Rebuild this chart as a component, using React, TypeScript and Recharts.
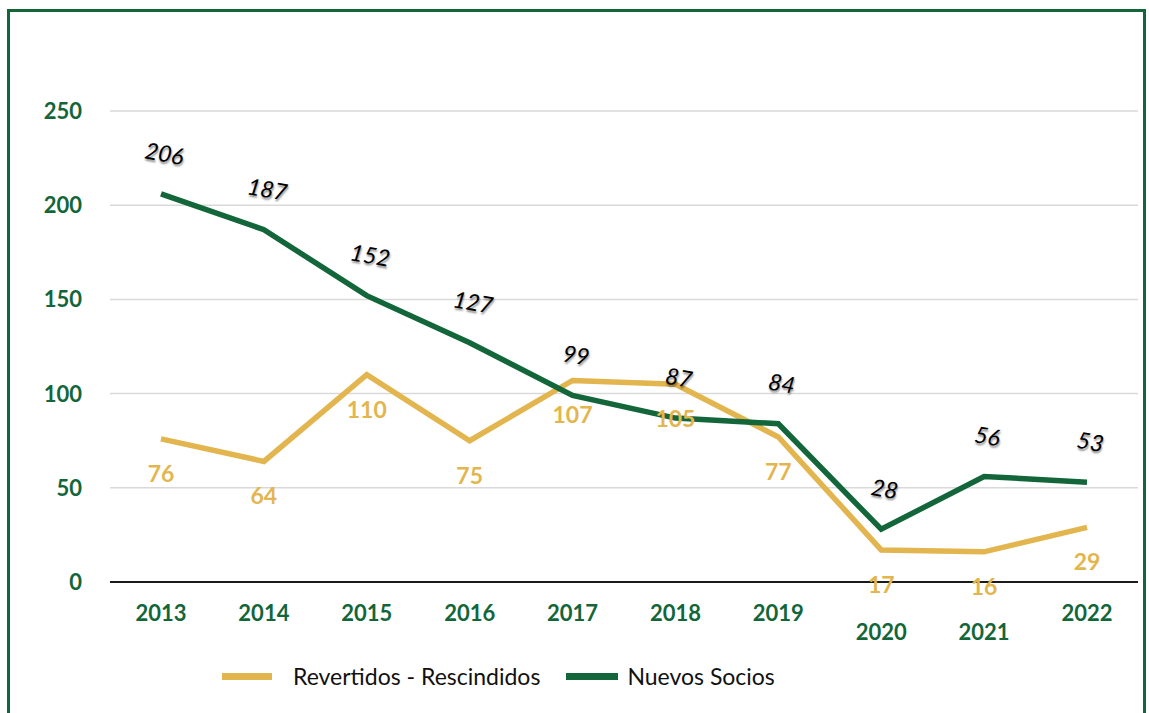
import { LineChart, Line, XAxis, YAxis, CartesianGrid, LabelList } from 'recharts';

const years = ['2013', '2014', '2015', '2016', '2017', '2018', '2019', '2020', '2021', '2022'];
const revertidos = [76, 64, 110, 75, 107, 105, 77, 17, 16, 29];
const nuevos = [206, 187, 152, 127, 99, 87, 84, 28, 56, 53];
const yTicks = [0, 50, 100, 150, 200, 250];
const loweredYears = ['2020', '2021'];

const GREEN = '#12663a';
const GOLD = '#e3b54e';
const FONT = 'Lato, "Open Sans", sans-serif';

const data = years.map((y, i) => ({ year: y, revertidos: revertidos[i], nuevos: nuevos[i] }));

const XTick = ({ x, y, payload }: any) => {
  const low = loweredYears.includes(payload.value);
  return (
    <text x={x} y={y + (low ? 50 : 31)} textAnchor="middle" fill={GREEN}
      style={{ fontFamily: FONT, fontWeight: 700, fontSize: 22 }}>
      {payload.value}
    </text>
  );
};

const YTick = ({ x, y, payload }: any) => (
  <text x={x} y={y + 8} textAnchor="end" fill={GREEN}
    style={{ fontFamily: FONT, fontWeight: 700, fontSize: 22 }}>
    {payload.value}
  </text>
);

const NuevoLabel = ({ x, y, value }: any) => {
  const cx = x + 3, cy = y - 38;
  return (
    <text x={cx} y={cy} textAnchor="middle" dominantBaseline="middle"
      transform={`rotate(10 ${cx} ${cy})`} fill="#000"
      style={{ fontFamily: FONT, fontStyle: 'italic', fontSize: 23, textShadow: '1px 2px 2px rgba(0,0,0,0.45)' }}>
      {value}
    </text>
  );
};

const RevLabel = ({ x, y, value }: any) => (
  <text x={x} y={y + 37} textAnchor="middle" dominantBaseline="middle" fill={GOLD}
    style={{ fontFamily: FONT, fontWeight: 700, fontSize: 23 }}>
    {value}
  </text>
);

export default function App() {
  return (
    <div style={{ position: 'fixed', left: 0, top: 0, width: 1149, height: 713, overflow: 'hidden', background: '#fff' }}>
      <div style={{ position: 'absolute', left: 7, top: 9, width: 1133, height: 720, border: `3px solid ${GREEN}` }} />
      <div style={{ position: 'absolute', left: 0, top: 0 }}>
        <LineChart width={1149} height={713} data={data}
          margin={{ top: 111, right: 11, left: 10, bottom: 91 }}>
          <CartesianGrid vertical={false} stroke="#d9d9d9" strokeWidth={1.5} />
          <XAxis dataKey="year" tick={<XTick />} tickLine={false} height={40}
            axisLine={{ stroke: '#1a1a1a', strokeWidth: 2 }} interval={0}
            padding={{ left: 51, right: 51 }} />
          <YAxis domain={[0, 250]} ticks={yTicks} tick={<YTick />} width={100}
            tickLine={false} axisLine={false} tickMargin={22} />
          <Line type="linear" dataKey="revertidos" name="Revertidos - Rescindidos" stroke={GOLD}
            strokeWidth={5.5} dot={false} isAnimationActive={false}>
            <LabelList dataKey="revertidos" content={<RevLabel />} />
          </Line>
          <Line type="linear" dataKey="nuevos" name="Nuevos Socios" stroke={GREEN}
            strokeWidth={5.5} dot={false} isAnimationActive={false}>
            <LabelList dataKey="nuevos" content={<NuevoLabel />} />
          </Line>
        </LineChart>
      </div>
      <div style={{ position: 'absolute', top: 660, left: 222, height: 32, display: 'flex', alignItems: 'center', fontFamily: FONT, fontSize: 23, color: '#111' }}>
        <span style={{ display: 'inline-block', width: 50, height: 7, background: GOLD, marginRight: 21 }} />
        <span style={{ marginRight: 26 }}>Revertidos - Rescindidos</span>
        <span style={{ display: 'inline-block', width: 52, height: 7, background: GREEN, marginRight: 9 }} />
        <span>Nuevos Socios</span>
      </div>
    </div>
  );
}
